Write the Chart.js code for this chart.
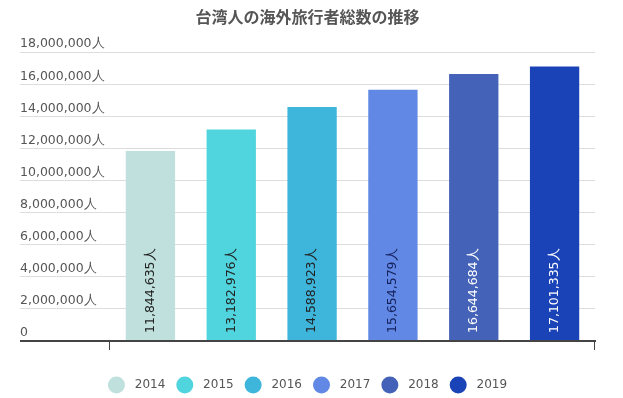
<!DOCTYPE html>
<html>
<head>
<meta charset="utf-8">
<script src="https://cdn.jsdelivr.net/npm/chart.js@4/dist/chart.umd.min.js"></script>
<style>
  html, body { margin: 0; padding: 0; background: #fff; }
  #wrap { width: 623px; height: 398px; }
</style>
</head>
<body>
<div id="wrap"><canvas id="travelChart"></canvas></div>
<script>
const years = ['2014', '2015', '2016', '2017', '2018', '2019'];
const travelers = [11844635, 13182976, 14588923, 15654579, 16644684, 17101335];
const barColors = ['#bfe0dc', '#50d4dd', '#3eb5da', '#6088e4', '#4462b7', '#1b43b8'];
const valueColors = ['#222222', '#222222', '#222222', '#16205a', '#ffffff', '#ffffff'];
const yMax = 18000000;
const yStep = 2000000;

const fmt = v => v.toLocaleString('en-US');

// 棒の中に縦書きで値を描く
const barValueLabels = {
    id: 'barValueLabels',
    afterDatasetsDraw(chart) {
        const ctx = chart.ctx;
        chart.getDatasetMeta(0).data.forEach((bar, i) => {
            ctx.save();
            ctx.translate(bar.x, bar.base - 7);
            ctx.rotate(-Math.PI / 2);
            ctx.font = '12.5px "DejaVu Sans"';
            ctx.fillStyle = valueColors[i];
            ctx.textAlign = 'left';
            ctx.textBaseline = 'middle';
            ctx.fillText(fmt(travelers[i]) + '人', 0, 0);
            ctx.restore();
        });
    }
};

new Chart(document.getElementById('travelChart'), {
    type: 'bar',
    data: {
        labels: years,
        datasets: [{
            label: '海外旅行者総数',
            data: travelers,
            backgroundColor: barColors,
            borderWidth: 0,
            categoryPercentage: 0.61,
            barPercentage: 1
        }]
    },
    options: {
        responsive: true,
        maintainAspectRatio: false,
        animation: false,
        layout: {
            padding: { left: 20, right: 28, top: 0, bottom: -3 }
        },
        plugins: {
            title: {
                display: true,
                text: '台湾人の海外旅行者総数の推移',
                color: '#555',
                font: { family: '"Noto Sans CJK JP"', size: 16, weight: 'bold' },
                padding: { top: 7, bottom: 26 }
            },
            legend: {
                position: 'bottom',
                labels: {
                    usePointStyle: true,
                    pointStyleWidth: 17,
                    padding: 11,
                    color: '#555',
                    font: { family: '"DejaVu Sans"', size: 12 },
                    generateLabels: () => years.map((y, i) => ({
                        text: ' ' + y,
                        fillStyle: barColors[i],
                        strokeStyle: barColors[i],
                        lineWidth: 0,
                        pointStyle: 'circle',
                        fontColor: '#555',
                        hidden: false,
                        index: i
                    }))
                },
                onClick: () => {}
            },
            tooltip: { enabled: false }
        },
        scales: {
            x: {
                ticks: { display: false },
                grid: {
                    offset: true,
                    drawOnChartArea: false,
                    tickLength: 9,
                    color: c => (c.index === 0 || c.index === undefined || c.index === years.length) ? '#444' : 'rgba(0,0,0,0)'
                },
                border: { color: '#444', width: 2 },
                afterFit: s => { s.height = 27; }
            },
            y: {
                min: 0,
                max: yMax,
                ticks: {
                    stepSize: yStep,
                    crossAlign: 'far',
                    labelOffset: -8,
                    padding: 0,
                    color: '#555',
                    font: { family: '"DejaVu Sans"', size: 12.5 },
                    callback: v => v === 0 ? '0' : fmt(v) + '人'
                },
                grid: {
                    tickLength: 90,
                    color: c => c.tick && c.tick.value === 0 ? '#444' : '#dddddd',
                    lineWidth: c => c.tick && c.tick.value === 0 ? 2 : 1
                },
                border: { display: false },
                afterFit: s => { s.width = 90; }
            }
        }
    },
    plugins: [barValueLabels]
});
</script>
</body>
</html>
